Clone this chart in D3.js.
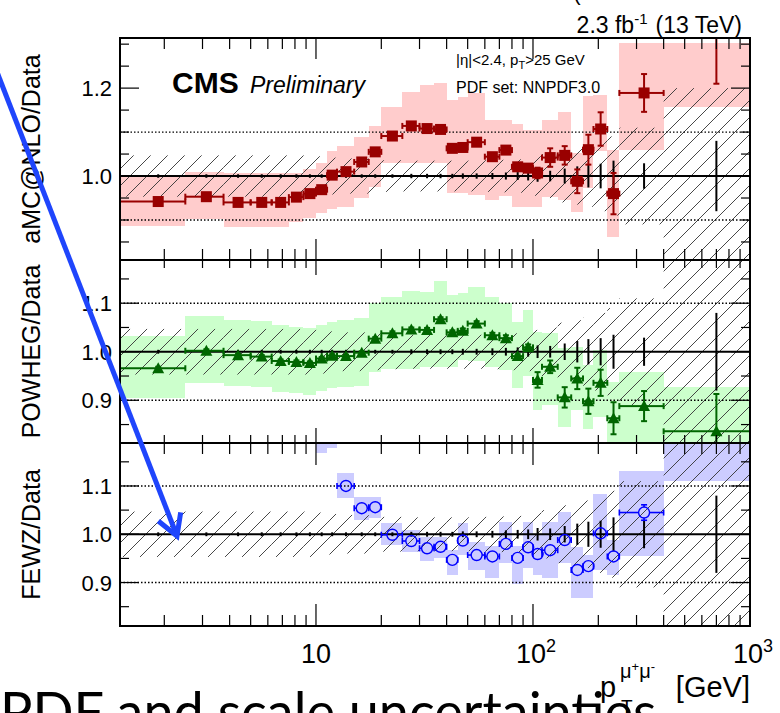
<!DOCTYPE html>
<html>
<head>
<meta charset="utf-8">
<script src="https://cdn.jsdelivr.net/npm/d3@7"></script>
<style>
  body { margin: 0; background: #fff; }
  svg { display: block; }
  text { font-family: "Liberation Sans", Arial, Helvetica, sans-serif; fill: #000; }
</style>
</head>
<body>
<svg id="chart" width="780" height="713"></svg>
<script>
// pT bins of the dimuon system [GeV]
const binLow  = [1.25, 2.5, 3.75, 5, 6.25, 7.5, 8.75, 10, 11.25, 12.5, 15, 17.5, 20, 25, 30, 35, 40, 45, 50, 60, 70, 80, 90, 100, 110, 130, 150, 170, 190, 220, 250, 400];
const binHigh = [2.5, 3.75, 5, 6.25, 7.5, 8.75, 10, 11.25, 12.5, 15, 17.5, 20, 25, 30, 35, 40, 45, 50, 60, 70, 80, 90, 100, 110, 130, 150, 170, 190, 220, 250, 400, 1000];

// data: total relative uncertainty (hatched) and statistical error (black bars)
const dataUnc = [0.047, 0.047, 0.047, 0.047, 0.047, 0.047, 0.047, 0.045, 0.042, 0.040, 0.040, 0.038, 0.036, 0.035, 0.035, 0.035, 0.035, 0.035, 0.035, 0.036, 0.037, 0.038, 0.040, 0.045, 0.050, 0.060, 0.065, 0.070, 0.080, 0.090, 0.110, 0.200];
const dataErr = [0.004, 0.004, 0.004, 0.004, 0.004, 0.004, 0.004, 0.004, 0.004, 0.004, 0.004, 0.004, 0.004, 0.005, 0.005, 0.005, 0.005, 0.006, 0.006, 0.007, 0.008, 0.009, 0.010, 0.013, 0.012, 0.017, 0.022, 0.026, 0.028, 0.035, 0.029, 0.080];

// aMC@NLO / Data
const amcRatio = [0.942, 0.953, 0.940, 0.940, 0.940, 0.952, 0.960, 0.969, 1.002, 1.010, 1.032, 1.055, 1.091, 1.114, 1.108, 1.106, 1.063, 1.065, 1.077, 1.044, 1.059, 1.021, 1.018, 1.007, 1.042, 1.047, 0.988, 1.060, 1.107, 0.960, 1.189, 1.360];
const amcStat  = [0.003, 0.003, 0.003, 0.003, 0.003, 0.003, 0.003, 0.003, 0.003, 0.003, 0.003, 0.003, 0.004, 0.004, 0.004, 0.004, 0.004, 0.005, 0.005, 0.006, 0.007, 0.008, 0.009, 0.012, 0.021, 0.021, 0.027, 0.034, 0.038, 0.047, 0.043, 0.150];
const amcBandLow  = [0.887, 0.902, 0.885, 0.885, 0.885, 0.895, 0.904, 0.915, 0.925, 0.930, 0.950, 0.976, 1.029, 1.029, 1.029, 1.029, 0.962, 0.962, 0.957, 0.945, 0.955, 0.930, 0.930, 0.930, 0.953, 0.945, 0.918, 0.973, 1.058, 0.861, 1.060, 1.157];
const amcBandHigh = [0.998, 1.010, 1.006, 1.006, 1.006, 1.008, 1.017, 1.030, 1.058, 1.069, 1.089, 1.114, 1.158, 1.192, 1.207, 1.211, 1.173, 1.179, 1.188, 1.127, 1.127, 1.118, 1.105, 1.105, 1.128, 1.145, 1.052, 1.183, 1.184, 1.060, 1.302, 1.302];

// POWHEG / Data
const powhegRatio = [0.966, 1.002, 0.993, 0.990, 0.981, 0.979, 0.977, 0.986, 0.992, 0.991, 0.998, 1.027, 1.038, 1.046, 1.045, 1.067, 1.040, 1.043, 1.058, 1.034, 1.028, 0.991, 1.009, 0.942, 0.969, 0.906, 0.945, 0.898, 0.936, 0.863, 0.888, 0.836];
const powhegStat  = [0.003, 0.003, 0.003, 0.003, 0.003, 0.003, 0.003, 0.003, 0.003, 0.003, 0.003, 0.003, 0.004, 0.004, 0.004, 0.004, 0.004, 0.005, 0.005, 0.005, 0.006, 0.004, 0.006, 0.016, 0.013, 0.021, 0.022, 0.026, 0.027, 0.033, 0.031, 0.077];
const powhegBandLow  = [0.904, 0.936, 0.929, 0.928, 0.918, 0.914, 0.911, 0.920, 0.925, 0.927, 0.929, 0.959, 0.964, 0.964, 0.969, 0.968, 0.969, 0.983, 0.980, 0.969, 0.962, 0.925, 0.950, 0.880, 0.890, 0.845, 0.880, 0.840, 0.866, 0.800, 0.800, 0.780];
const powhegBandHigh = [1.032, 1.074, 1.065, 1.064, 1.055, 1.050, 1.048, 1.055, 1.062, 1.065, 1.069, 1.101, 1.113, 1.125, 1.124, 1.146, 1.117, 1.122, 1.134, 1.112, 1.100, 1.062, 1.086, 1.041, 1.038, 1.007, 1.010, 0.973, 1.003, 0.938, 0.959, 0.928];

// FEWZ / Data (no prediction in the lowest bins)
const fewzRatio = [null, null, null, null, null, null, null, 1.250, 1.250, 1.100, 1.054, 1.056, 0.999, 0.986, 0.971, 0.974, 0.947, 0.987, 0.957, 0.954, 0.980, 0.951, 0.973, 0.959, 0.967, 0.988, 0.926, 0.934, 1.002, 0.954, 1.045, 1.300];
const fewzStat  = [null, null, null, null, null, null, null, 0.003, 0.003, 0.003, 0.003, 0.003, 0.003, 0.003, 0.003, 0.003, 0.003, 0.004, 0.004, 0.004, 0.004, 0.004, 0.005, 0.005, 0.005, 0.006, 0.006, 0.006, 0.010, 0.010, 0.016, 0.050];
const fewzBandLow  = [null, null, null, null, null, null, null, 1.169, 1.179, 1.075, 1.030, 1.033, 0.978, 0.964, 0.945, 0.950, 0.916, 0.957, 0.925, 0.909, 0.940, 0.898, 0.930, 0.915, 0.909, 0.940, 0.867, 0.867, 0.926, 0.916, 0.955, 1.111];
const fewzBandHigh = [null, null, null, null, null, null, null, 1.350, 1.350, 1.127, 1.077, 1.077, 1.023, 1.009, 0.995, 0.995, 0.967, 1.024, 0.985, 0.975, 1.026, 0.975, 1.026, 1.000, 1.026, 1.047, 0.974, 0.957, 1.084, 0.988, 1.132, 1.400];

// axis ticks
const xMajorTicks = [10, 100, 1000];
const xMinorTicks = [2, 3, 4, 5, 6, 7, 8, 9, 20, 30, 40, 50, 60, 70, 80, 90, 200, 300, 400, 500, 600, 700, 800, 900];
const xTickLabels = [{v: 10, base: "10", exp: ""}, {v: 100, base: "10", exp: "2"}, {v: 1000, base: "10", exp: "3"}];
const topYMajor = [1.0, 1.2];
const topYMinor = [0.85, 0.9, 0.95, 1.05, 1.1, 1.15, 1.25, 1.3];
const topYLabels = ["1.0", "1.2"];
const lowYMajor = [0.9, 1.0, 1.1];
const lowYMinor = [0.85, 0.95, 1.05, 1.15];
const lowYLabels = ["0.9", "1.0", "1.1"];

const svg = d3.select("#chart");
const defs = svg.append("defs");

// "///" hatching for the data uncertainty
const hatch = defs.append("pattern").attr("id", "hatch")
  .attr("patternUnits", "userSpaceOnUse").attr("width", 17).attr("height", 17);
hatch.append("path").attr("d", "M0,17 L17,0 M-2,2 L2,-2 M15,19 L19,15")
  .attr("stroke", "#333").attr("stroke-width", 0.9).attr("fill", "none");

const x = d3.scaleLog().domain([1.25, 1000]).range([120, 750]);
const X0 = 120, X1 = 750;

const panels = [
  { id: "amc", top: 38, bottom: 260, domain: [0.809, 1.314], ratio: amcRatio, stat: amcStat,
    bandLo: amcBandLow, bandHi: amcBandHigh, bandColor: "#ffcccc", color: "#990000", marker: "square",
    title: "aMC@NLO/Data", major: topYMajor, minor: topYMinor, labels: topYLabels, tMaj: 21, tMin: 11 },
  { id: "powheg", top: 260, bottom: 443, domain: [0.812, 1.189], ratio: powhegRatio, stat: powhegStat,
    bandLo: powhegBandLow, bandHi: powhegBandHigh, bandColor: "#ccffcc", color: "#006600", marker: "triangle",
    title: "POWHEG/Data", major: lowYMajor, minor: lowYMinor, labels: lowYLabels, tMaj: 15, tMin: 8 },
  { id: "fewz", top: 443, bottom: 626, domain: [0.810, 1.189], ratio: fewzRatio, stat: fewzStat,
    bandLo: fewzBandLow, bandHi: fewzBandHigh, bandColor: "#ccccff", color: "#0000ff", marker: "circle",
    title: "FEWZ/Data", major: lowYMajor, minor: lowYMinor, labels: lowYLabels, tMaj: 22, tMin: 11 }
];

const bins = binLow.map((lo, i) => ({ i, lo, hi: binHigh[i], c: (lo + binHigh[i]) / 2 }));

// large slide caption sitting behind the x-axis title
svg.append("text").attr("x", 0).attr("y", 731)
  .style("font-family", "Lato, 'Open Sans', sans-serif").style("font-size", "54px")
  .text("PDF and scale uncertainties");

panels.forEach(p => {
  const y = d3.scaleLinear().domain(p.domain).range([p.bottom, p.top]);
  defs.append("clipPath").attr("id", "clip-" + p.id)
    .append("rect").attr("x", X0).attr("y", p.top).attr("width", X1 - X0).attr("height", p.bottom - p.top);
  const g = svg.append("g").attr("clip-path", `url(#clip-${p.id})`);

  // prediction uncertainty band
  g.selectAll("rect.band").data(bins.filter(b => p.bandLo[b.i] !== null)).join("rect")
    .attr("class", "band")
    .attr("x", b => x(b.lo)).attr("width", b => x(b.hi) - x(b.lo))
    .attr("y", b => y(p.bandHi[b.i])).attr("height", b => y(p.bandLo[b.i]) - y(p.bandHi[b.i]))
    .attr("fill", p.bandColor).attr("shape-rendering", "crispEdges");

  // data uncertainty, hatched
  g.selectAll("rect.hatch").data(bins).join("rect")
    .attr("class", "hatch")
    .attr("x", b => x(b.lo)).attr("width", b => x(b.hi) - x(b.lo))
    .attr("y", b => y(1 + dataUnc[b.i])).attr("height", b => y(1 - dataUnc[b.i]) - y(1 + dataUnc[b.i]))
    .attr("fill", "url(#hatch)");

  // reference lines
  [0.9, 1.1].forEach(v => {
    g.append("line").attr("x1", X0).attr("x2", X1).attr("y1", y(v)).attr("y2", y(v))
      .attr("stroke", "#000").attr("stroke-width", 1.4).attr("stroke-dasharray", "1.5,2");
  });
  g.append("line").attr("x1", X0).attr("x2", X1).attr("y1", y(1)).attr("y2", y(1))
    .attr("stroke", "#000").attr("stroke-width", 2);

  // data statistical error bars around unity
  g.selectAll("line.data").data(bins).join("line")
    .attr("class", "data")
    .attr("x1", b => x(b.c)).attr("x2", b => x(b.c))
    .attr("y1", b => y(1 - dataErr[b.i])).attr("y2", b => y(1 + dataErr[b.i]))
    .attr("stroke", "#000").attr("stroke-width", 2);

  // prediction points with error bars
  const pts = bins.filter(b => p.ratio[b.i] !== null);
  const r = 5.5;
  const lw = p.marker === "circle" ? 1.6 : 2;
  const cap = 3;
  pts.forEach(b => {
    const cx = x(b.c), cy = y(p.ratio[b.i]);
    const xl = x(b.lo), xr = x(b.hi);
    const gap = p.marker === "circle" ? r : 0;
    const eb = g.append("g").attr("stroke", p.color).attr("stroke-width", lw).attr("fill", "none");
    eb.append("line").attr("x1", xl).attr("x2", cx - gap).attr("y1", cy).attr("y2", cy);
    eb.append("line").attr("x1", cx + gap).attr("x2", xr).attr("y1", cy).attr("y2", cy);
    eb.append("line").attr("x1", xl).attr("x2", xl).attr("y1", cy - cap).attr("y2", cy + cap);
    eb.append("line").attr("x1", xr).attr("x2", xr).attr("y1", cy - cap).attr("y2", cy + cap);
    const yt = y(p.ratio[b.i] + p.stat[b.i]), yb = y(p.ratio[b.i] - p.stat[b.i]);
    if (yb - cy > gap + 1) {
      eb.append("line").attr("x1", cx).attr("x2", cx).attr("y1", yt).attr("y2", cy - gap);
      eb.append("line").attr("x1", cx).attr("x2", cx).attr("y1", cy + gap).attr("y2", yb);
      eb.append("line").attr("x1", cx - cap).attr("x2", cx + cap).attr("y1", yt).attr("y2", yt);
      eb.append("line").attr("x1", cx - cap).attr("x2", cx + cap).attr("y1", yb).attr("y2", yb);
    }
    if (p.marker === "square") {
      g.append("rect").attr("x", cx - r).attr("y", cy - r).attr("width", 2 * r).attr("height", 2 * r)
        .attr("fill", p.color);
    } else if (p.marker === "triangle") {
      g.append("path").attr("d", `M${cx - 6},${cy + 5} L${cx + 6},${cy + 5} L${cx},${cy - 6} Z`)
        .attr("fill", p.color);
    } else {
      g.append("circle").attr("cx", cx).attr("cy", cy).attr("r", r)
        .attr("fill", "none").attr("stroke", p.color).attr("stroke-width", 1.4);
    }
  });

  // frame
  svg.append("rect").attr("x", X0).attr("y", p.top).attr("width", X1 - X0).attr("height", p.bottom - p.top)
    .attr("fill", "none").attr("stroke", "#000").attr("stroke-width", 2);

  // x ticks on top and bottom edges
  const ax = svg.append("g").attr("stroke", "#000").attr("stroke-width", 1.2);
  [[xMajorTicks, p.tMaj], [xMinorTicks, p.tMin]].forEach(([vals, len]) => {
    vals.forEach(v => {
      const xx = x(v);
      ax.append("line").attr("x1", xx).attr("x2", xx).attr("y1", p.bottom).attr("y2", p.bottom - len);
      ax.append("line").attr("x1", xx).attr("x2", xx).attr("y1", p.top).attr("y2", p.top + len);
    });
  });
  // y ticks on left and right edges
  [[p.major, 19], [p.minor, 9]].forEach(([vals, len]) => {
    vals.forEach(v => {
      const yy = y(v);
      ax.append("line").attr("x1", X0).attr("x2", X0 + len).attr("y1", yy).attr("y2", yy);
      ax.append("line").attr("x1", X1).attr("x2", X1 - len).attr("y1", yy).attr("y2", yy);
    });
  });
  p.major.forEach((v, k) => {
    svg.append("text").attr("x", 112).attr("y", y(v) + 8).attr("text-anchor", "end")
      .style("font-size", "22px").text(p.labels[k]);
  });

  // axis title
  svg.append("text").attr("transform", `translate(40,${(p.top + p.bottom) / 2}) rotate(-90)`)
    .attr("text-anchor", "middle").style("font-size", "25px").text(p.title);
});

// x tick labels
xTickLabels.forEach(t => {
  const tx = svg.append("text").attr("x", x(t.v) + (t.exp ? 3 : 0)).attr("y", 663)
    .attr("text-anchor", "middle").style("font-size", "27px");
  tx.append("tspan").text(t.base);
  if (t.exp) tx.append("tspan").attr("dy", -11).style("font-size", "18px").text(t.exp);
});

// x-axis title
svg.append("text").attr("x", 750).attr("y", 697).attr("text-anchor", "end")
  .style("font-size", "29px").text("[GeV]");
svg.append("text").attr("x", 600).attr("y", 697).style("font-size", "29px").text("p");
const sup = svg.append("text").attr("x", 620).attr("y", 678).style("font-size", "20px");
sup.append("tspan").text("\u03bc");
sup.append("tspan").attr("dy", -7).style("font-size", "13px").text("+");
sup.append("tspan").attr("dy", 7).text("\u03bc");
sup.append("tspan").attr("dy", -7).style("font-size", "13px").text("-");
svg.append("text").attr("x", 621).attr("y", 713).style("font-size", "19px").text("T");

// header and labels
svg.append("text").attr("x", 172).attr("y", 93).style("font-size", "30px").style("font-weight", "bold").text("CMS");
svg.append("text").attr("x", 250).attr("y", 93).style("font-size", "23px").style("font-style", "italic").text("Preliminary");
const sel = svg.append("text").attr("x", 456).attr("y", 65).style("font-size", "15px");
sel.append("tspan").text("|\u03b7|<2.4, p");
sel.append("tspan").attr("dy", 4).style("font-size", "11px").text("T");
sel.append("tspan").attr("dy", -4).text(">25 GeV");
svg.append("text").attr("x", 456).attr("y", 93).style("font-size", "16px").text("PDF set: NNPDF3.0");

const lumi = svg.append("text").attr("x", 742).attr("y", 33).attr("text-anchor", "end").style("font-size", "23px");
lumi.append("tspan").text("2.3 fb");
lumi.append("tspan").attr("dy", -9).style("font-size", "15px").text("-1");
lumi.append("tspan").attr("dy", 9).attr("dx", 8).text("(13 TeV)");
svg.append("text").attr("x", 573).attr("y", 0).style("font-size", "23px").text("(");

// blue annotation arrow
const tip = [177, 536], start = [-3, 72];
const dx = start[0] - tip[0], dy = start[1] - tip[1], len = Math.hypot(dx, dy);
const ux = dx / len, uy = dy / len, arm = 24, ang = 30 * Math.PI / 180;
const rot = a => [tip[0] + arm * (ux * Math.cos(a) - uy * Math.sin(a)), tip[1] + arm * (ux * Math.sin(a) + uy * Math.cos(a))];
const a1 = rot(ang), a2 = rot(-ang);
svg.append("line").attr("x1", start[0]).attr("y1", start[1]).attr("x2", tip[0]).attr("y2", tip[1])
  .attr("stroke", "#1f45fc").attr("stroke-width", 5);
svg.append("path").attr("d", `M${a1[0]},${a1[1]} L${tip[0]},${tip[1]} L${a2[0]},${a2[1]}`)
  .attr("fill", "none").attr("stroke", "#1f45fc").attr("stroke-width", 5).attr("stroke-linejoin", "miter");
</script>
</body>
</html>
